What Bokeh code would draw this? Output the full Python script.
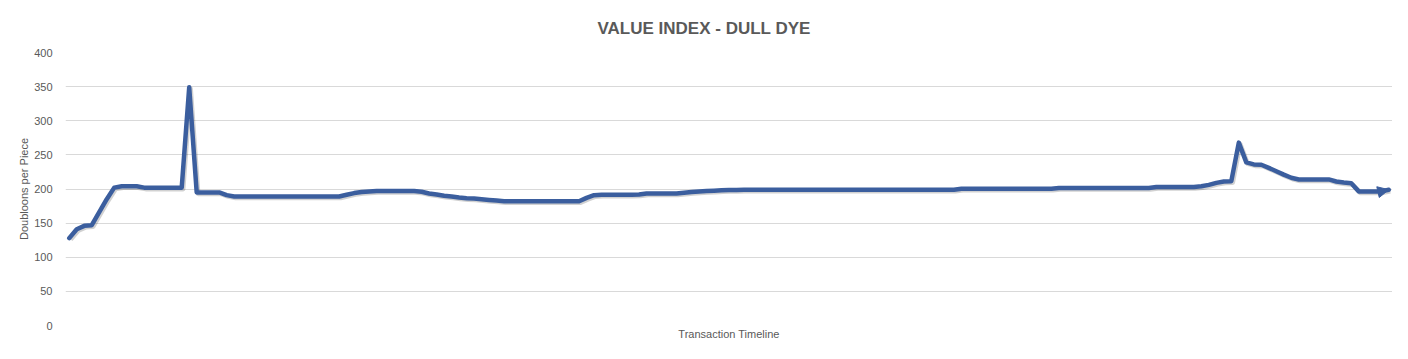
from bokeh.plotting import figure
from bokeh.models import Arrow, NormalHead, FixedTicker, ColumnDataSource
from bokeh.embed import file_html
from bokeh.resources import INLINE

TITLE = "VALUE INDEX - DULL DYE"
X_LABEL = "Transaction Timeline"
Y_LABEL = "Doubloons per Piece"
Y_TICKS = [0, 50, 100, 150, 200, 250, 300, 350, 400]

price = [
    128, 141, 146, 147, 166, 185, 202, 204, 204, 204,
    202, 202, 202, 202, 202, 202, 349,
    195, 195, 195, 195, 191, 189,
    189, 189, 189, 189, 189, 189, 189, 189, 189, 189, 189, 189, 189, 189,
    191.5, 194, 195.5, 196.5, 197, 197, 197, 197, 197, 197,
    196, 193.5, 192, 190, 189, 187.5, 186.5, 186, 185, 184, 183, 182,
    182, 182, 182, 182, 182, 182, 182, 182, 182, 182,
    187, 191, 191.5, 191.5, 191.5, 191.5, 191.5, 192,
    193.5, 193.5, 193.5, 193.5, 193.5,
    194.5, 195.5, 196.5, 197, 197.5, 198, 198.5, 198.5, 199,
    199, 199, 199, 199, 199, 199, 199, 199, 199, 199, 199, 199, 199, 199,
    199, 199, 199, 199, 199, 199, 199, 199, 199, 199, 199, 199, 199, 199,
    200.5, 200.5, 200.5, 200.5, 200.5, 200.5, 200.5, 200.5, 200.5, 200.5, 200.5, 200.5, 200.5,
    201.5, 201.5, 201.5, 201.5, 201.5, 201.5, 201.5, 201.5, 201.5, 201.5, 201.5, 201.5, 201.5,
    203, 203, 203, 203, 203, 203,
    204, 206, 209, 211, 211.5,
    268,
    239, 236, 235.5, 231, 226, 221, 216.5, 214,
    214, 214, 214, 214,
    211, 209.5, 208.5,
    196.5, 196.5, 196.5, 196.5, 199,
]
transaction = list(range(len(price)))

LINE_COLOR = "#3B5E9E"
TEXT_COLOR = "#595959"
GRID_COLOR = "#D9D9D9"
FONT = "Liberation Sans"

p = figure(
    frame_width=1327, frame_height=273,
    min_border_left=65, min_border_right=0, min_border_top=52, min_border_bottom=18,
    x_range=(-0.5, len(price) - 0.5), y_range=(0, 400),
    output_backend="svg", toolbar_location=None, tools="",
)
p.outline_line_color = None
p.background_fill_color = "white"
p.border_fill_color = "white"

p.title.text = TITLE
p.title.align = "left"
p.title.offset = 532
p.title.text_font = FONT
p.title.text_font_size = "17px"
p.title.text_font_style = "bold"
p.title.text_color = TEXT_COLOR
p.title.standoff = 30

src = ColumnDataSource(dict(x=transaction, y=price,
                            xs=[v + 0.2 for v in transaction],
                            ys=[v - 2.2 for v in price]))
p.line("xs", "ys", source=src, line_color="#000000", line_alpha=0.18,
       line_width=4.5, line_join="round")
p.line("x", "y", source=src, line_color=LINE_COLOR, line_width=4.5,
       line_join="round", line_cap="round")
p.add_layout(Arrow(
    end=NormalHead(size=11, fill_color=LINE_COLOR, line_color=LINE_COLOR, line_width=1),
    x_start=transaction[-2], y_start=price[-2],
    x_end=transaction[-1], y_end=price[-1],
    line_color=LINE_COLOR, line_width=4.5, line_alpha=0,
))

# y axis
p.yaxis.ticker = FixedTicker(ticks=Y_TICKS)
p.yaxis.axis_line_color = None
p.yaxis.major_tick_line_color = None
p.yaxis.minor_tick_line_color = None
p.yaxis.major_label_standoff = 7
p.yaxis.major_label_text_font = FONT
p.yaxis.major_label_text_font_size = "11px"
p.yaxis.major_label_text_color = TEXT_COLOR
p.yaxis.axis_label = Y_LABEL
p.yaxis.axis_label_text_font = FONT
p.yaxis.axis_label_text_font_size = "11px"
p.yaxis.axis_label_text_font_style = "normal"
p.yaxis.axis_label_text_color = TEXT_COLOR
p.yaxis.axis_label_standoff = 1

# x axis
p.xaxis.ticker = FixedTicker(ticks=[])
p.xaxis.axis_line_color = None
p.xaxis.major_tick_line_color = None
p.xaxis.minor_tick_line_color = None
p.xaxis.major_label_text_font_size = "0px"
p.xaxis.axis_label = X_LABEL
p.xaxis.axis_label_text_font = FONT
p.xaxis.axis_label_text_font_size = "11px"
p.xaxis.axis_label_text_font_style = "normal"
p.xaxis.axis_label_text_color = TEXT_COLOR
p.xaxis.axis_label_standoff = 2

p.xgrid.grid_line_color = None
p.ygrid.ticker = FixedTicker(ticks=Y_TICKS)
p.ygrid.grid_line_color = GRID_COLOR
p.ygrid.grid_line_width = 1

open("out.html", "w").write(file_html(p, INLINE))
